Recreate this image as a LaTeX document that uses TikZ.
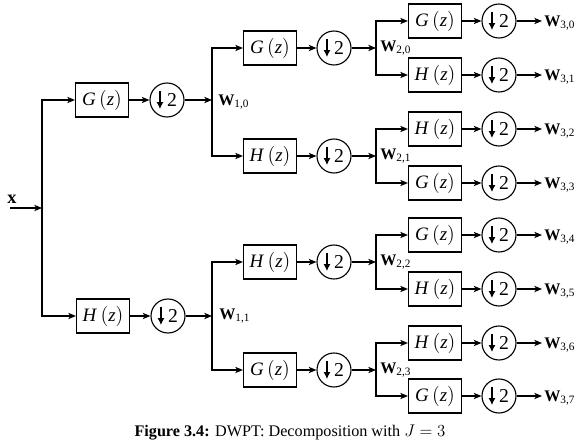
\documentclass[tikz,border=0pt]{standalone}
\usepackage{fontspec}
\setmainfont{Liberation Serif}
\usetikzlibrary{arrows.meta}

\tikzset{
  filt/.style={draw, line width=0.8pt, minimum width=1.325cm, minimum height=0.85cm,
    inner sep=0pt, font=\fontsize{13.5}{13.5}\selectfont},
  dsamp/.style={draw, circle, line width=0.8pt, minimum size=0.85cm, inner sep=0pt,
    font=\fontsize{14}{14}\selectfont,
    path picture={\draw[-{Latex[length=5pt,width=5pt]}, line width=1.2pt]
      ([xshift=-5pt,yshift=6.5pt]path picture bounding box.center) -- ++(0,-13pt);}},
  sig/.style={-{Stealth[length=5.5pt,width=4.5pt,inset=1.5pt]}, line width=0.8pt},
  coef/.style={anchor=west, inner sep=0pt, font=\fontsize{11.5}{11.5}\selectfont},
}
\newcommand{\filtz}[1]{\textit{#1}$\,\big($\textit{z}$\big)$}
\newcommand{\coefW}[1]{\textbf{W}\textsubscript{\fontsize{8}{8}\selectfont #1}}

\begin{document}
\begin{tikzpicture}[x=0.025cm,y=-0.025cm]
  \useasboundingbox (0,0) rectangle (580,440);

  % input
  \node[inner sep=0pt, font=\bfseries\fontsize{13}{13}\selectfont] (xin) at (12,199) {x};
  \coordinate (xs) at (10,208);
  \coordinate (j0) at (42,208);
  \draw[sig] (xs) -- (j0);

  % level 1
  \node[filt] (f10) at (102,100) {\filtz{G}};
  \node[filt] (f11) at (103,316) {\filtz{H}};
  \node[dsamp] (d10) at (167,100) {\hspace{7pt}2};
  \node[dsamp] (d11) at (168,316) {\hspace{7pt}2};
  \coordinate (j10) at (212,100);
  \coordinate (j11) at (212,316);
  \draw[sig] (j0) |- (f10);
  \draw[sig] (j0) |- (f11);
  \draw[sig] (f10) -- (d10);
  \draw[sig] (f11) -- (d11);
  \draw[sig] (d10) -- (j10);
  \draw[sig] (d11) -- (j11);
  \node[coef] at (218,102) {\coefW{1,0}};
  \node[coef] at (219,316) {\coefW{1,1}};

  % level 2
  \foreach \k/\y/\f/\p in {0/48/G/0,1/156/H/0,2/262/H/1,3/370/G/1} {
    \node[filt] (f2\k) at (270,\y) {\filtz{\f}};
    \node[dsamp] (d2\k) at (334,\y) {\hspace{7pt}2};
    \coordinate (j2\k) at (376,\y);
    \draw[sig] (j1\p) |- (f2\k);
    \draw[sig] (f2\k) -- (d2\k);
    \draw[sig] (d2\k) -- (j2\k);
    \node[coef] at (380,\y) {\coefW{2,\k}};
  }

  % level 3
  \foreach \k/\y/\f/\p in {0/21/G/0,1/75/H/0,2/129/H/1,3/183/G/1,
                           4/235/G/2,5/289/H/2,6/343/H/3,7/396/G/3} {
    \node[filt] (f3\k) at (435,\y) {\filtz{\f}};
    \node[dsamp] (d3\k) at (499,\y) {\hspace{7pt}2};
    \coordinate (o3\k) at (542,\y);
    \draw[sig] (j2\p) |- (f3\k);
    \draw[sig] (f3\k) -- (d3\k);
    \draw[sig] (d3\k) -- (o3\k);
    \node[coef] at (544,\y+2) {\coefW{3,\k}};
  }

  % caption
  \node[anchor=base, inner sep=0pt, font=\fontsize{11.5}{11.5}\selectfont] (cap) at (290,436)
    {\textbf{Figure 3.4:} DWPT: Decomposition with $J=3$};
\end{tikzpicture}
\end{document}
